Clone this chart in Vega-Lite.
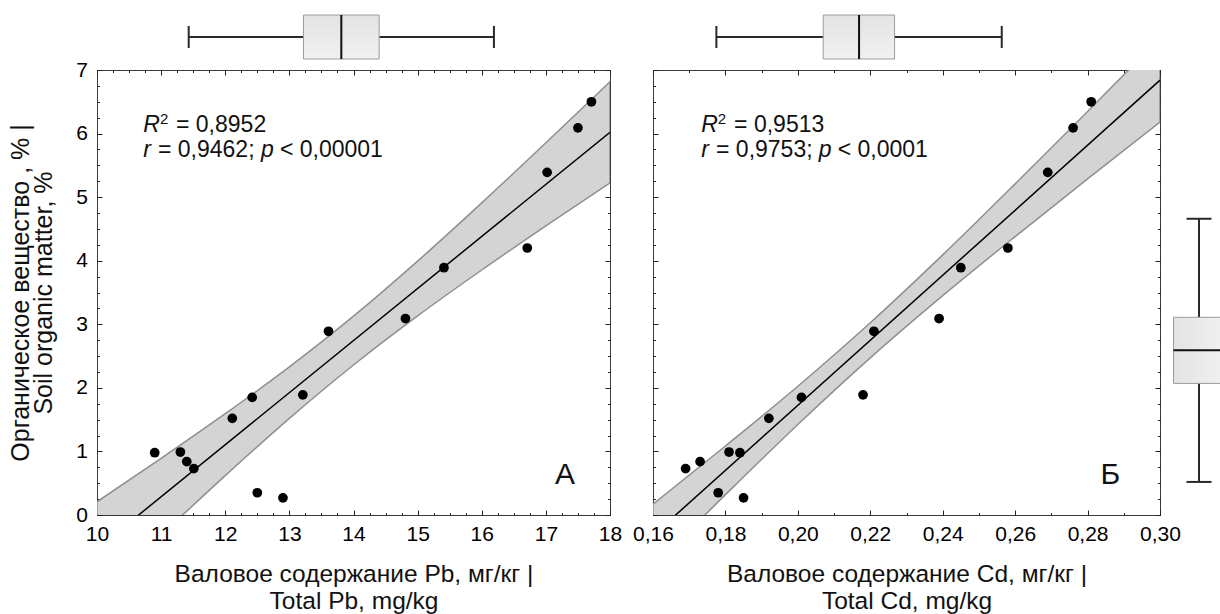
{
  "$schema": "https://vega.github.io/schema/vega-lite/v6.json",
  "autosize": {"type": "none"},
  "padding": {"left": 97, "top": 12, "right": 1123, "bottom": 602},
  "background": "white",
  "config": {
    "font": "Liberation Sans",
    "view": {"stroke": "#3a3a3a", "strokeWidth": 1},
    "axis": {
      "domain": false, "grid": false, "tickColor": "#222", "tickWidth": 1,
      "labelColor": "#000", "titleColor": "#111", "labelFlush": false,
      "labelFont": "Liberation Sans", "titleFont": "Liberation Sans",
      "labelFontSize": 21, "titleFontSize": 24, "titleFontWeight": "normal"
    }
  },
  "datasets": {
    "pts": [
      {"pb": 10.9, "cd": 0.184, "som": 0.98},
      {"pb": 11.3, "cd": 0.181, "som": 0.99},
      {"pb": 11.4, "cd": 0.173, "som": 0.84},
      {"pb": 11.51, "cd": 0.169, "som": 0.73},
      {"pb": 12.11, "cd": 0.192, "som": 1.52},
      {"pb": 12.42, "cd": 0.201, "som": 1.85},
      {"pb": 12.5, "cd": 0.178, "som": 0.35},
      {"pb": 12.9, "cd": 0.185, "som": 0.27},
      {"pb": 13.21, "cd": 0.218, "som": 1.89},
      {"pb": 13.61, "cd": 0.221, "som": 2.89},
      {"pb": 14.81, "cd": 0.239, "som": 3.09},
      {"pb": 15.41, "cd": 0.245, "som": 3.89},
      {"pb": 16.71, "cd": 0.258, "som": 4.2},
      {"pb": 17.02, "cd": 0.269, "som": 5.39},
      {"pb": 17.5, "cd": 0.276, "som": 6.09},
      {"pb": 17.71, "cd": 0.281, "som": 6.5}
    ],
    "bandA": [
      {"x": 10, "lo": -1.272, "hi": 0.208},
      {"x": 11, "lo": -0.317, "hi": 0.891},
      {"x": 12, "lo": 0.619, "hi": 1.593},
      {"x": 13, "lo": 1.52, "hi": 2.33},
      {"x": 14, "lo": 2.36, "hi": 3.128},
      {"x": 15, "lo": 3.132, "hi": 3.994},
      {"x": 16, "lo": 3.854, "hi": 4.91},
      {"x": 17, "lo": 4.547, "hi": 5.855},
      {"x": 18, "lo": 5.225, "hi": 6.815}
    ],
    "bandB": [
      {"x": 0.16, "lo": -0.81, "hi": 0.17},
      {"x": 0.18, "lo": 0.32, "hi": 1.086},
      {"x": 0.2, "lo": 1.424, "hi": 2.026},
      {"x": 0.22, "lo": 2.472, "hi": 3.024},
      {"x": 0.24, "lo": 3.45, "hi": 4.092},
      {"x": 0.26, "lo": 4.379, "hi": 5.209},
      {"x": 0.28, "lo": 5.286, "hi": 6.348},
      {"x": 0.3, "lo": 6.18, "hi": 7.5}
    ],
    "fitA": [{"x": 10, "y": -0.532}, {"x": 18, "y": 6.02}],
    "fitB": [{"x": 0.16, "y": -0.32}, {"x": 0.3, "y": 6.84}],
    "box": [
      {"var": "Pb", "mean": 13.81, "seLo": 13.22, "seHi": 14.4, "sdLo": 11.43, "sdHi": 16.19},
      {"var": "Cd", "mean": 0.2169, "seLo": 0.207, "seHi": 0.2267, "sdLo": 0.1775, "sdHi": 0.2563},
      {"var": "SOM", "mean": 2.59, "seLo": 2.07, "seHi": 3.11, "sdLo": 0.52, "sdHi": 4.66}
    ],
    "notes": [
      {"p": "A", "x": 10.72, "y": 6.03, "t": "R"},
      {"p": "A", "x": 10.982, "y": 6.15, "t": "2"},
      {"p": "A", "x": 11.232, "y": 6.03, "t": "= 0,8952"},
      {"p": "A", "x": 10.72, "y": 5.636, "t": "r"},
      {"p": "A", "x": 10.951, "y": 5.636, "t": "= 0,9462;"},
      {"p": "A", "x": 12.557, "y": 5.636, "t": "p"},
      {"p": "A", "x": 12.853, "y": 5.636, "t": "< 0,00001"},
      {"p": "A", "x": 17.3, "y": 0.49, "t": "А"},
      {"p": "B", "x": 0.1733, "y": 6.03, "t": "R"},
      {"p": "B", "x": 0.1779, "y": 6.15, "t": "2"},
      {"p": "B", "x": 0.1824, "y": 6.03, "t": "= 0,9513"},
      {"p": "B", "x": 0.1733, "y": 5.636, "t": "r"},
      {"p": "B", "x": 0.1774, "y": 5.636, "t": "= 0,9753;"},
      {"p": "B", "x": 0.2058, "y": 5.636, "t": "p"},
      {"p": "B", "x": 0.211, "y": 5.636, "t": "< 0,0001"},
      {"p": "B", "x": 0.2863, "y": 0.49, "t": "Б"}
    ]
  },
  "vconcat": [
    {
      "hconcat": [
        {
          "width": 513, "height": 50,
          "view": {"stroke": null},
          "data": {"name": "box"},
          "transform": [{"filter": "datum.var == 'Pb'"}],
          "encoding": {"y": {"field": "var", "type": "nominal", "axis": null}},
          "layer": [
            {"mark": {"type": "rule", "color": "#2a2a2a", "strokeWidth": 2},
             "encoding": {"x": {"field": "sdLo", "type": "quantitative", "scale": {"domain": [10, 18], "nice": false, "zero": false}, "axis": null}, "x2": {"field": "sdHi"}}},
            {"mark": {"type": "tick", "color": "#2a2a2a", "thickness": 2, "size": 22, "opacity": 1},
             "encoding": {"x": {"field": "sdLo", "type": "quantitative", "scale": {"domain": [10, 18], "nice": false, "zero": false}, "axis": null}}},
            {"mark": {"type": "tick", "color": "#2a2a2a", "thickness": 2, "size": 22, "opacity": 1},
             "encoding": {"x": {"field": "sdHi", "type": "quantitative", "scale": {"domain": [10, 18], "nice": false, "zero": false}, "axis": null}}},
            {"mark": {"type": "bar", "size": 44, "stroke": "#9c9c9c", "strokeWidth": 1,
                      "fill": {"gradient": "linear", "x1": 0, "y1": 0, "x2": 0, "y2": 1, "stops": [{"offset": 0, "color": "#e3e3e3"}, {"offset": 1, "color": "#f1f1f1"}]}},
             "encoding": {"x": {"field": "seLo", "type": "quantitative", "scale": {"domain": [10, 18], "nice": false, "zero": false}, "axis": null}, "x2": {"field": "seHi"}}},
            {"mark": {"type": "tick", "color": "#111", "thickness": 2, "size": 44, "opacity": 1},
             "encoding": {"x": {"field": "mean", "type": "quantitative", "scale": {"domain": [10, 18], "nice": false, "zero": false}, "axis": null}}}
          ]
        },
        {
          "width": 507, "height": 50,
          "view": {"stroke": null},
          "data": {"name": "box"},
          "transform": [{"filter": "datum.var == 'Cd'"}],
          "encoding": {"y": {"field": "var", "type": "nominal", "axis": null}},
          "layer": [
            {"mark": {"type": "rule", "color": "#2a2a2a", "strokeWidth": 2},
             "encoding": {"x": {"field": "sdLo", "type": "quantitative", "scale": {"domain": [0.16, 0.3], "nice": false, "zero": false}, "axis": null}, "x2": {"field": "sdHi"}}},
            {"mark": {"type": "tick", "color": "#2a2a2a", "thickness": 2, "size": 22, "opacity": 1},
             "encoding": {"x": {"field": "sdLo", "type": "quantitative", "scale": {"domain": [0.16, 0.3], "nice": false, "zero": false}, "axis": null}}},
            {"mark": {"type": "tick", "color": "#2a2a2a", "thickness": 2, "size": 22, "opacity": 1},
             "encoding": {"x": {"field": "sdHi", "type": "quantitative", "scale": {"domain": [0.16, 0.3], "nice": false, "zero": false}, "axis": null}}},
            {"mark": {"type": "bar", "size": 44, "stroke": "#9c9c9c", "strokeWidth": 1,
                      "fill": {"gradient": "linear", "x1": 0, "y1": 0, "x2": 0, "y2": 1, "stops": [{"offset": 0, "color": "#e3e3e3"}, {"offset": 1, "color": "#f1f1f1"}]}},
             "encoding": {"x": {"field": "seLo", "type": "quantitative", "scale": {"domain": [0.16, 0.3], "nice": false, "zero": false}, "axis": null}, "x2": {"field": "seHi"}}},
            {"mark": {"type": "tick", "color": "#111", "thickness": 2, "size": 44, "opacity": 1},
             "encoding": {"x": {"field": "mean", "type": "quantitative", "scale": {"domain": [0.16, 0.3], "nice": false, "zero": false}, "axis": null}}}
          ]
        }
      ],
      "spacing": 43,
      "bounds": "flush"
    },
    {
      "hconcat": [
        {
          "width": 513, "height": 445,
          "resolve": {"axis": {"x": "independent", "y": "independent"}},
          "layer": [
            {"data": {"name": "bandA"},
             "mark": {"type": "area", "fill": "#d4d4d4", "stroke": "#8f8f8f", "strokeWidth": 1.5, "clip": true, "opacity": 1, "interpolate": "monotone"},
             "encoding": {
               "x": {"field": "x", "type": "quantitative", "scale": {"domain": [10, 18], "nice": false, "zero": false},
                     "axis": {"orient": "top", "values": [10, 11, 12, 13, 14, 15, 16, 17, 18], "tickSize": -5, "labels": false, "title": null}},
               "y": {"field": "lo", "type": "quantitative", "scale": {"domain": [0, 7], "nice": false, "zero": false},
                     "axis": {"orient": "right", "values": [0, 1, 2, 3, 4, 5, 6, 7], "tickSize": -5, "labels": false, "title": null}},
               "y2": {"field": "hi"}}},
            {"data": {"name": "fitA"},
             "mark": {"type": "line", "color": "#000", "strokeWidth": 1.5, "clip": true},
             "encoding": {
               "x": {"field": "x", "type": "quantitative", "scale": {"domain": [10, 18], "nice": false, "zero": false},
                     "axis": {"orient": "top", "values": [10, 10.25, 10.5, 10.75, 11, 11.25, 11.5, 11.75, 12, 12.25, 12.5, 12.75, 13, 13.25, 13.5, 13.75, 14, 14.25, 14.5, 14.75, 15, 15.25, 15.5, 15.75, 16, 16.25, 16.5, 16.75, 17, 17.25, 17.5, 17.75, 18], "tickSize": -2.5, "labels": false, "title": null}},
               "y": {"field": "y", "type": "quantitative", "scale": {"domain": [0, 7], "nice": false, "zero": false},
                     "axis": {"orient": "right", "values": [0, 0.25, 0.5, 0.75, 1, 1.25, 1.5, 1.75, 2, 2.25, 2.5, 2.75, 3, 3.25, 3.5, 3.75, 4, 4.25, 4.5, 4.75, 5, 5.25, 5.5, 5.75, 6, 6.25, 6.5, 6.75, 7], "tickSize": -2.5, "labels": false, "title": null}}}},
            {"data": {"name": "pts"},
             "mark": {"type": "circle", "size": 95, "color": "#000", "opacity": 1},
             "encoding": {
               "x": {"field": "pb", "type": "quantitative", "scale": {"domain": [10, 18], "nice": false, "zero": false},
                     "axis": {"orient": "bottom", "values": [10, 11, 12, 13, 14, 15, 16, 17, 18], "tickSize": -5, "labelPadding": 13, "title": ["Валовое содержание Pb, мг/кг |", "Total Pb, mg/kg"], "titlePadding": 18, "titleLineHeight": 27, "titleFontSize": 24.5}},
               "y": {"field": "som", "type": "quantitative", "scale": {"domain": [0, 7], "nice": false, "zero": false},
                     "axis": {"orient": "left", "values": [0, 1, 2, 3, 4, 5, 6, 7], "tickSize": -5, "labelPadding": 14.5, "title": ["Органическое вещество , % |", "Soil organic matter, %"], "titlePadding": 19, "titleLineHeight": 23, "titleFontSize": 25}}}},
            {"data": {"name": "notes"},
             "transform": [{"filter": "datum.p == 'A' && datum.t != 'R' && datum.t != 'r' && datum.t != 'p' && datum.t != '2' && datum.t != 'А'"}],
             "mark": {"type": "text", "fontSize": 23, "align": "left", "baseline": "alphabetic", "color": "#111"},
             "encoding": {
               "x": {"field": "x", "type": "quantitative", "scale": {"domain": [10, 18], "nice": false, "zero": false},
                     "axis": {"orient": "bottom", "values": [10, 10.25, 10.5, 10.75, 11, 11.25, 11.5, 11.75, 12, 12.25, 12.5, 12.75, 13, 13.25, 13.5, 13.75, 14, 14.25, 14.5, 14.75, 15, 15.25, 15.5, 15.75, 16, 16.25, 16.5, 16.75, 17, 17.25, 17.5, 17.75, 18], "tickSize": -2.5, "labels": false, "title": null}},
               "y": {"field": "y", "type": "quantitative", "scale": {"domain": [0, 7], "nice": false, "zero": false},
                     "axis": {"orient": "left", "values": [0, 0.25, 0.5, 0.75, 1, 1.25, 1.5, 1.75, 2, 2.25, 2.5, 2.75, 3, 3.25, 3.5, 3.75, 4, 4.25, 4.5, 4.75, 5, 5.25, 5.5, 5.75, 6, 6.25, 6.5, 6.75, 7], "tickSize": -2.5, "labels": false, "title": null}},
               "text": {"field": "t"}}},
            {"data": {"name": "notes"},
             "transform": [{"filter": "datum.p == 'A' && (datum.t == 'R' || datum.t == 'r' || datum.t == 'p')"}],
             "mark": {"type": "text", "fontSize": 23, "fontStyle": "italic", "align": "left", "baseline": "alphabetic", "color": "#111"},
             "encoding": {
               "x": {"field": "x", "type": "quantitative", "scale": {"domain": [10, 18], "nice": false, "zero": false}, "axis": null},
               "y": {"field": "y", "type": "quantitative", "scale": {"domain": [0, 7], "nice": false, "zero": false}, "axis": null},
               "text": {"field": "t"}}},
            {"data": {"name": "notes"},
             "transform": [{"filter": "datum.p == 'A' && datum.t == '2'"}],
             "mark": {"type": "text", "fontSize": 15, "align": "left", "baseline": "alphabetic", "color": "#111"},
             "encoding": {
               "x": {"field": "x", "type": "quantitative", "scale": {"domain": [10, 18], "nice": false, "zero": false}, "axis": null},
               "y": {"field": "y", "type": "quantitative", "scale": {"domain": [0, 7], "nice": false, "zero": false}, "axis": null},
               "text": {"field": "t"}}},
            {"data": {"name": "notes"},
             "transform": [{"filter": "datum.p == 'A' && datum.t == 'А'"}],
             "mark": {"type": "text", "fontSize": 30, "align": "center", "baseline": "alphabetic", "color": "#111"},
             "encoding": {
               "x": {"field": "x", "type": "quantitative", "scale": {"domain": [10, 18], "nice": false, "zero": false}, "axis": null},
               "y": {"field": "y", "type": "quantitative", "scale": {"domain": [0, 7], "nice": false, "zero": false}, "axis": null},
               "text": {"field": "t"}}}
          ]
        },
        {
          "hconcat": [
            {
              "width": 507, "height": 445,
              "resolve": {"axis": {"x": "independent", "y": "independent"}},
              "layer": [
                {"data": {"name": "bandB"},
                 "mark": {"type": "area", "fill": "#d4d4d4", "stroke": "#8f8f8f", "strokeWidth": 1.5, "clip": true, "opacity": 1, "interpolate": "monotone"},
                 "encoding": {
                   "x": {"field": "x", "type": "quantitative", "scale": {"domain": [0.16, 0.3], "nice": false, "zero": false},
                         "axis": {"orient": "top", "values": [0.16, 0.18, 0.2, 0.22, 0.24, 0.26, 0.28, 0.3], "tickSize": -5, "labels": false, "title": null}},
                   "y": {"field": "lo", "type": "quantitative", "scale": {"domain": [0, 7], "nice": false, "zero": false},
                         "axis": {"orient": "right", "values": [0, 1, 2, 3, 4, 5, 6, 7], "tickSize": -5, "labels": false, "title": null}},
                   "y2": {"field": "hi"}}},
                {"data": {"name": "fitB"},
                 "mark": {"type": "line", "color": "#000", "strokeWidth": 1.5, "clip": true},
                 "encoding": {
                   "x": {"field": "x", "type": "quantitative", "scale": {"domain": [0.16, 0.3], "nice": false, "zero": false},
                         "axis": {"orient": "top", "values": [0.16, 0.17, 0.18, 0.19, 0.2, 0.21, 0.22, 0.23, 0.24, 0.25, 0.26, 0.27, 0.28, 0.29, 0.3], "tickSize": -2.5, "labels": false, "title": null}},
                   "y": {"field": "y", "type": "quantitative", "scale": {"domain": [0, 7], "nice": false, "zero": false},
                         "axis": {"orient": "right", "values": [0, 0.25, 0.5, 0.75, 1, 1.25, 1.5, 1.75, 2, 2.25, 2.5, 2.75, 3, 3.25, 3.5, 3.75, 4, 4.25, 4.5, 4.75, 5, 5.25, 5.5, 5.75, 6, 6.25, 6.5, 6.75, 7], "tickSize": -2.5, "labels": false, "title": null}}}},
                {"data": {"name": "pts"},
                 "mark": {"type": "circle", "size": 95, "color": "#000", "opacity": 1},
                 "encoding": {
                   "x": {"field": "cd", "type": "quantitative", "scale": {"domain": [0.16, 0.3], "nice": false, "zero": false},
                         "axis": {"orient": "bottom", "values": [0.16, 0.18, 0.2, 0.22, 0.24, 0.26, 0.28, 0.3], "labelExpr": "replace(format(datum.value, '.2f'), '.', ',')", "tickSize": -5, "labelPadding": 13, "title": ["Валовое содержание Cd, мг/кг |", "Total Cd, mg/kg"], "titlePadding": 18, "titleLineHeight": 27, "titleFontSize": 24.5}},
                   "y": {"field": "som", "type": "quantitative", "scale": {"domain": [0, 7], "nice": false, "zero": false},
                         "axis": {"orient": "left", "values": [0, 1, 2, 3, 4, 5, 6, 7], "tickSize": -5, "labels": false, "title": null}}}},
                {"data": {"name": "notes"},
                 "transform": [{"filter": "datum.p == 'B' && datum.t != 'R' && datum.t != 'r' && datum.t != 'p' && datum.t != '2' && datum.t != 'Б'"}],
                 "mark": {"type": "text", "fontSize": 23, "align": "left", "baseline": "alphabetic", "color": "#111"},
                 "encoding": {
                   "x": {"field": "x", "type": "quantitative", "scale": {"domain": [0.16, 0.3], "nice": false, "zero": false},
                         "axis": {"orient": "bottom", "values": [0.16, 0.17, 0.18, 0.19, 0.2, 0.21, 0.22, 0.23, 0.24, 0.25, 0.26, 0.27, 0.28, 0.29, 0.3], "tickSize": -2.5, "labels": false, "title": null}},
                   "y": {"field": "y", "type": "quantitative", "scale": {"domain": [0, 7], "nice": false, "zero": false},
                         "axis": {"orient": "left", "values": [0, 0.25, 0.5, 0.75, 1, 1.25, 1.5, 1.75, 2, 2.25, 2.5, 2.75, 3, 3.25, 3.5, 3.75, 4, 4.25, 4.5, 4.75, 5, 5.25, 5.5, 5.75, 6, 6.25, 6.5, 6.75, 7], "tickSize": -2.5, "labels": false, "title": null}},
                   "text": {"field": "t"}}},
                {"data": {"name": "notes"},
                 "transform": [{"filter": "datum.p == 'B' && (datum.t == 'R' || datum.t == 'r' || datum.t == 'p')"}],
                 "mark": {"type": "text", "fontSize": 23, "fontStyle": "italic", "align": "left", "baseline": "alphabetic", "color": "#111"},
                 "encoding": {
                   "x": {"field": "x", "type": "quantitative", "scale": {"domain": [0.16, 0.3], "nice": false, "zero": false}, "axis": null},
                   "y": {"field": "y", "type": "quantitative", "scale": {"domain": [0, 7], "nice": false, "zero": false}, "axis": null},
                   "text": {"field": "t"}}},
                {"data": {"name": "notes"},
                 "transform": [{"filter": "datum.p == 'B' && datum.t == '2'"}],
                 "mark": {"type": "text", "fontSize": 15, "align": "left", "baseline": "alphabetic", "color": "#111"},
                 "encoding": {
                   "x": {"field": "x", "type": "quantitative", "scale": {"domain": [0.16, 0.3], "nice": false, "zero": false}, "axis": null},
                   "y": {"field": "y", "type": "quantitative", "scale": {"domain": [0, 7], "nice": false, "zero": false}, "axis": null},
                   "text": {"field": "t"}}},
                {"data": {"name": "notes"},
                 "transform": [{"filter": "datum.p == 'B' && datum.t == 'Б'"}],
                 "mark": {"type": "text", "fontSize": 30, "align": "center", "baseline": "alphabetic", "color": "#111"},
                 "encoding": {
                   "x": {"field": "x", "type": "quantitative", "scale": {"domain": [0.16, 0.3], "nice": false, "zero": false}, "axis": null},
                   "y": {"field": "y", "type": "quantitative", "scale": {"domain": [0, 7], "nice": false, "zero": false}, "axis": null},
                   "text": {"field": "t"}}}
              ]
            },
            {
              "width": 54, "height": 445,
              "view": {"stroke": null},
              "data": {"name": "box"},
              "transform": [{"filter": "datum.var == 'SOM'"}],
              "encoding": {"x": {"field": "var", "type": "nominal", "axis": null}},
              "layer": [
                {"mark": {"type": "rule", "color": "#2a2a2a", "strokeWidth": 2},
                 "encoding": {"y": {"field": "sdLo", "type": "quantitative", "scale": {"domain": [0, 7], "nice": false, "zero": false}, "axis": null}, "y2": {"field": "sdHi"}}},
                {"mark": {"type": "tick", "color": "#2a2a2a", "thickness": 2, "size": 25, "opacity": 1},
                 "encoding": {"y": {"field": "sdLo", "type": "quantitative", "scale": {"domain": [0, 7], "nice": false, "zero": false}, "axis": null}}},
                {"mark": {"type": "tick", "color": "#2a2a2a", "thickness": 2, "size": 25, "opacity": 1},
                 "encoding": {"y": {"field": "sdHi", "type": "quantitative", "scale": {"domain": [0, 7], "nice": false, "zero": false}, "axis": null}}},
                {"mark": {"type": "bar", "size": 51, "stroke": "#9c9c9c", "strokeWidth": 1,
                          "fill": {"gradient": "linear", "x1": 0, "y1": 0, "x2": 1, "y2": 0, "stops": [{"offset": 0, "color": "#e3e3e3"}, {"offset": 1, "color": "#f1f1f1"}]}},
                 "encoding": {"y": {"field": "seLo", "type": "quantitative", "scale": {"domain": [0, 7], "nice": false, "zero": false}, "axis": null}, "y2": {"field": "seHi"}}},
                {"mark": {"type": "tick", "color": "#111", "thickness": 2, "size": 51, "opacity": 1},
                 "encoding": {"y": {"field": "mean", "type": "quantitative", "scale": {"domain": [0, 7], "nice": false, "zero": false}, "axis": null}}}
              ]
            }
          ],
          "spacing": 12,
          "bounds": "flush"
        }
      ],
      "spacing": 43,
      "bounds": "flush"
    }
  ],
  "spacing": -4,
  "bounds": "full"
}
